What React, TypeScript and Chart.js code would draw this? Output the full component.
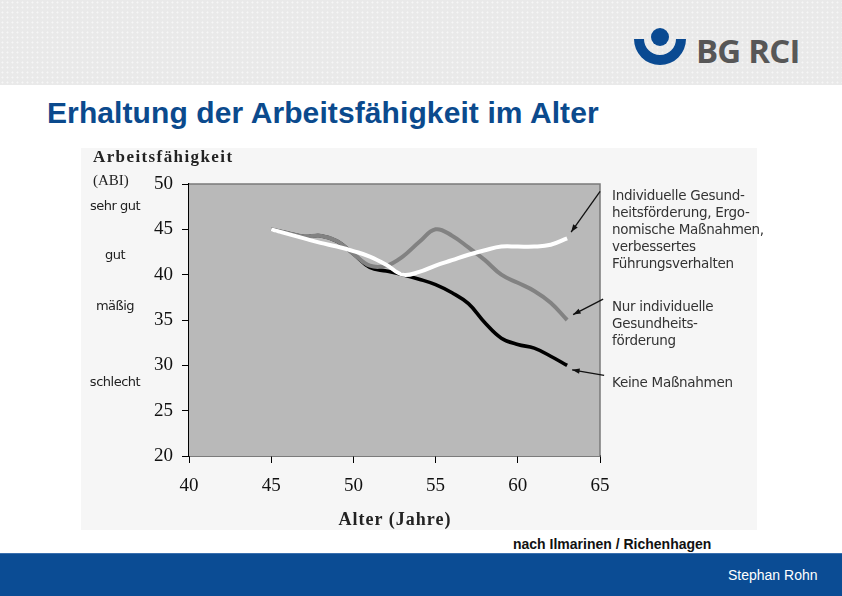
import React, { useEffect, useRef } from "react";
import { Chart, registerables } from "chart.js";

Chart.register(...registerables);

const ages = [45, 46, 47, 48, 49, 50, 51, 52, 53, 54, 55, 56, 57, 58, 59, 60, 61, 62, 63];
const seriesAll = [45, 44.5, 44.0, 43.5, 43.1, 42.6, 42.0, 41.1, 40.0, 40.3, 41.0, 41.6, 42.2, 42.7, 43.1, 43.1, 43.1, 43.3, 44.0];
const seriesIndividual = [45, 44.6, 44.2, 44.3, 43.7, 42.3, 41.0, 41.0, 42.0, 43.6, 45.0, 44.3, 43.0, 41.6, 40.0, 39.1, 38.2, 36.9, 35.0];
const seriesNone = [45, 44.6, 44.2, 44.3, 43.7, 42.3, 40.8, 40.4, 40.0, 39.5, 38.9, 38.0, 36.8, 34.7, 33.0, 32.3, 31.9, 31.0, 30.0];
const xTicks = [40, 45, 50, 55, 60, 65];
const yTicks = [20, 25, 30, 35, 40, 45, 50];
const ratingLabels = ["sehr gut", "gut", "mäßig", "schlecht"];
const ratingValues = [47.6, 42.2, 36.5, 28.2];
const annotations = [
  ["Individuelle Gesund-", "heitsförderung, Ergo-", "nomische Maßnahmen,", "verbessertes", "Führungsverhalten"],
  ["Nur individuelle", "Gesundheits-", "förderung"],
  ["Keine Maßnahmen"],
];

const PANEL_LEFT = 81;
const PANEL_TOP = 148;
const PANEL_W = 676;
const PANEL_H = 382;

const plotBg = {
  id: "plotBg",
  beforeDatasetsDraw(chart: any) {
    const { ctx, chartArea } = chart;
    const { left, top, right, bottom } = chartArea;
    ctx.save();
    ctx.fillStyle = "#b9b9b9";
    ctx.fillRect(left, top, right - left, bottom - top);
    ctx.strokeStyle = "#7a7a7a";
    ctx.lineWidth = 1.5;
    ctx.beginPath();
    ctx.moveTo(left, top);
    ctx.lineTo(right, top);
    ctx.lineTo(right, bottom);
    ctx.stroke();
    ctx.restore();
  },
  afterDatasetsDraw(chart: any) {
    const { ctx } = chart;
    const xs = chart.scales.x;
    const ys = chart.scales.y;
    const arrow = (x1: number, y1: number, x2: number, y2: number) => {
      ctx.save();
      ctx.strokeStyle = "#111";
      ctx.fillStyle = "#111";
      ctx.lineWidth = 1.3;
      ctx.beginPath();
      ctx.moveTo(x1, y1);
      ctx.lineTo(x2, y2);
      ctx.stroke();
      const a = Math.atan2(y2 - y1, x2 - x1);
      const L = 8;
      ctx.beginPath();
      ctx.moveTo(x2, y2);
      ctx.lineTo(x2 - L * Math.cos(a - 0.35), y2 - L * Math.sin(a - 0.35));
      ctx.lineTo(x2 - L * Math.cos(a + 0.35), y2 - L * Math.sin(a + 0.35));
      ctx.closePath();
      ctx.fill();
      ctx.restore();
    };
    const last = ages.length - 1;
    const ex = xs.getPixelForValue(ages[last]);
    arrow(ex + 33, ys.getPixelForValue(49.2), ex + 4, ys.getPixelForValue(44.7));
    arrow(ex + 36, ys.getPixelForValue(37.3), ex + 6, ys.getPixelForValue(35.6));
    arrow(ex + 37, ys.getPixelForValue(28.9), ex + 5, ys.getPixelForValue(29.5));
  },
};

function ChartPanel() {
  const ref = useRef<HTMLCanvasElement | null>(null);
  useEffect(() => {
    if (!ref.current) return;
    const mk = (vals: number[]) => ages.map((a, i) => ({ x: a, y: vals[i] }));
    const chart = new Chart(ref.current, {
      type: "line",
      data: {
        datasets: [
          { label: "Individuelle Gesundheitsförderung, ergonomische Maßnahmen, verbessertes Führungsverhalten", data: mk(seriesAll), borderColor: "#ffffff", borderWidth: 4, pointRadius: 0, tension: 0.4, order: 0 },
          { label: "Nur individuelle Gesundheitsförderung", data: mk(seriesIndividual), borderColor: "#828282", borderWidth: 4, pointRadius: 0, tension: 0.4, order: 1 },
          { label: "Keine Maßnahmen", data: mk(seriesNone), borderColor: "#000000", borderWidth: 3.6, pointRadius: 0, tension: 0.4, order: 2 },
        ],
      },
      options: {
        animation: false,
        responsive: false,
        maintainAspectRatio: false,
        layout: { padding: { left: 0, top: 36, right: 157, bottom: 0 } },
        plugins: { legend: { display: false }, tooltip: { enabled: false }, title: { display: false } },
        scales: {
          x: {
            type: "linear",
            min: 40,
            max: 65,
            afterBuildTicks: (s: any) => { s.ticks = xTicks.map((v) => ({ value: v })); },
            afterFit: (s: any) => { s.height = 74; },
            grid: { drawOnChartArea: false, drawTicks: true, tickLength: 7, tickColor: "#000" },
            border: { color: "#000", width: 1.5 },
            ticks: { color: "#111", font: { family: "'Liberation Serif', serif", size: 19 }, padding: 12, maxRotation: 0 },
          },
          y: {
            min: 20,
            max: 50,
            afterBuildTicks: (s: any) => { s.ticks = yTicks.map((v) => ({ value: v })); },
            afterFit: (s: any) => { s.width = 108; },
            grid: { drawOnChartArea: false, drawTicks: true, tickLength: 7, tickColor: "#000" },
            border: { color: "#000", width: 1.5 },
            ticks: { color: "#111", font: { family: "'Liberation Serif', serif", size: 19 }, padding: 9 },
          },
        },
      },
      plugins: [plotBg],
    });
    return () => chart.destroy();
  }, []);
  return <canvas ref={ref} width={PANEL_W} height={PANEL_H} style={{ width: PANEL_W, height: PANEL_H, display: "block" }} />;
}

const abs = (l: number, t: number, extra: React.CSSProperties = {}): React.CSSProperties => ({ position: "absolute", left: l, top: t, whiteSpace: "nowrap", ...extra });

export default function App() {
  const yPix = (v: number) => 184 + (50 - v) * (272 / 30);
  return (
    <div style={{ position: "absolute", left: 0, top: 0, width: 842, height: 596, background: "#ffffff", overflow: "hidden", fontFamily: "'Liberation Sans', Arial, sans-serif" }}>
      <div style={{ position: "absolute", left: 0, top: 0, width: 842, height: 85, backgroundColor: "#e9e9e9", backgroundImage: "radial-gradient(#f6f6f6 0.9px, transparent 1.1px)", backgroundSize: "5px 5px" }} />
      <svg style={{ position: "absolute", left: 630, top: 24 }} width={60} height={42} viewBox="0 0 60 42">
        <circle cx={30} cy={13} r={9} fill="#0a4a92" />
        <path d="M4 15 L14 15 A16 16 0 0 0 46 15 L56 15 A26 26 0 0 1 4 15 Z" fill="#0a4a92" />
      </svg>
      <div style={abs(696, 28, { fontSize: 33, fontWeight: 700, color: "#575757", letterSpacing: -0.8, fontFamily: "'Open Sans', 'Liberation Sans', sans-serif" })}>BG RCI</div>
      <div style={abs(47, 95, { fontSize: 30, fontWeight: 700, color: "#0b4a8d", lineHeight: "36px", letterSpacing: 0.1 })}>Erhaltung der Arbeitsfähigkeit im Alter</div>

      <div style={{ position: "absolute", left: PANEL_LEFT, top: PANEL_TOP, width: PANEL_W, height: PANEL_H, background: "#f6f6f6" }}>
        <ChartPanel />
      </div>
      <div style={abs(93, 147, { fontFamily: "'Liberation Serif', serif", fontWeight: 700, fontSize: 17, color: "#222", lineHeight: "20px", letterSpacing: 1.4 })}>Arbeitsfähigkeit</div>
      <div style={abs(93, 171, { fontFamily: "'Liberation Serif', serif", fontSize: 15, color: "#222", lineHeight: "18px" })}>(ABI)</div>
      {ratingLabels.map((t, i) => (
        <div key={t} style={{ position: "absolute", left: 80, width: 70, textAlign: "center", top: yPix(ratingValues[i]) - 8, fontSize: 13, lineHeight: "16px", color: "#222", fontFamily: "'DejaVu Sans', sans-serif", letterSpacing: -0.5 }}>{t}</div>
      ))}
      <div style={{ position: "absolute", left: 190, width: 410, textAlign: "center", top: 508, fontFamily: "'Liberation Serif', serif", fontWeight: 700, fontSize: 18, color: "#222", lineHeight: "22px", letterSpacing: 1 }}>Alter (Jahre)</div>
      {annotations.map((lines, k) => (
        <div key={k} style={{ position: "absolute", left: 612, top: [187, 298, 374][k], fontFamily: "'DejaVu Sans', sans-serif", fontSize: 13.5, lineHeight: "17px", color: "#333", letterSpacing: -0.3 }}>
          {lines.map((l) => <div key={l}>{l}</div>)}
        </div>
      ))}
      <div style={abs(513, 535, { fontSize: 14, fontWeight: 700, color: "#111", lineHeight: "18px" })}>nach Ilmarinen / Richenhagen</div>
      <div style={{ position: "absolute", left: 0, top: 553, width: 842, height: 43, background: "#0b4c94", borderTop: "1px solid #3a6fae", boxSizing: "border-box" }} />
      <div style={abs(728, 566, { fontSize: 14, color: "#ffffff", lineHeight: "18px" })}>Stephan Rohn</div>
    </div>
  );
}
